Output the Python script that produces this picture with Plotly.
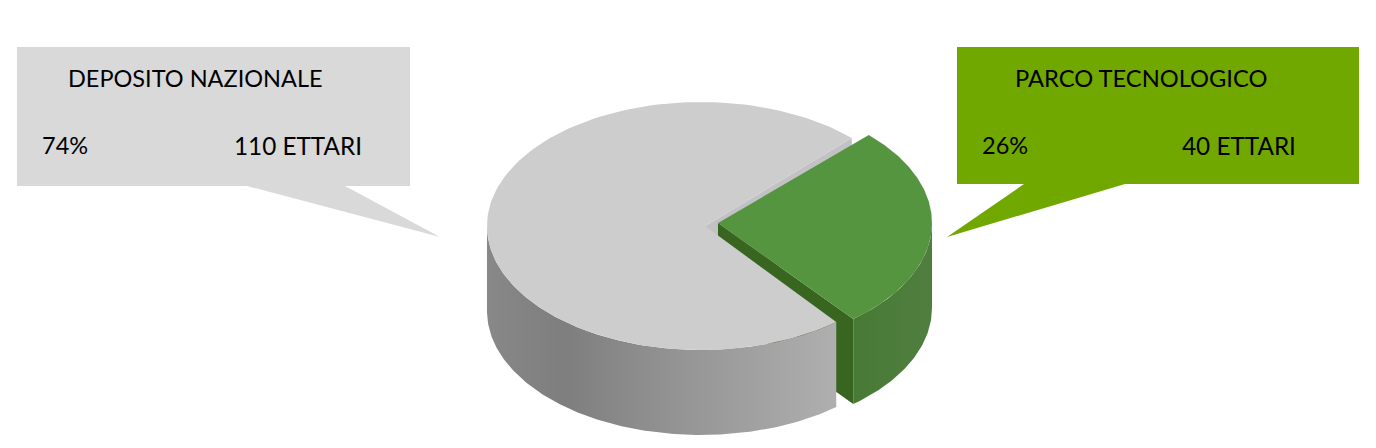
# 3D-looking pie: Plotly's pie trace is flat and round, so the faces are
# worked out from the hectares and drawn as filled scatter traces.
import numpy as np
import plotly.graph_objects as go

categories = ['DEPOSITO NAZIONALE', 'PARCO TECNOLOGICO']
percent_labels = ['74%', '26%']
hectares = [110, 40]

# Pie geometry, in axis units (same as picture pixels)
cx, cy = 701, 226
tip_x = 705
rx, ry = 214, 124
depth = 85
explode_x, explode_y = 17, -3
start_angle = 45.2

green_sweep = 360 * hectares[1] / sum(hectares)
a_up = start_angle
a_low = start_angle - green_sweep


def rim(angle_from, angle_to, x0, y0, n=160):
    t = np.radians(np.linspace(angle_from, angle_to, n))
    return x0 + rx * np.cos(t), y0 - ry * np.sin(t)


def face(fig, xs, ys, color=None, gradient=None):
    fig.add_trace(go.Scatter(
        x=np.append(xs, xs[0]), y=np.append(ys, ys[0]),
        mode='lines', line=dict(width=0), fill='toself',
        fillcolor=color, fillgradient=gradient,
        hoverinfo='skip', showlegend=False))


fig = go.Figure()

# Grey cut wall, only a thin strip stays visible next to the green slice
ux, uy = rim(a_up, a_up, cx, cy, 1)
face(fig, np.array([tip_x, ux[0], ux[0], tip_x]),
     np.array([cy, uy[0], uy[0] + depth, cy + depth]), color='#c2c1c6')

# Green cut wall
gx, gy = cx + explode_x, cy + explode_y
lx, ly = rim(a_low, a_low, gx, gy, 1)
face(fig, np.array([gx, lx[0], lx[0], gx]),
     np.array([gy, ly[0], ly[0] + depth, gy + depth]), color='#38651f')

# Grey outer side
sx, sy = rim(180, 360 + a_low, cx, cy)
grey_side = dict(type='horizontal', colorscale=[
    [0, '#888888'], [0.22, '#7e7e7e'], [0.55, '#949494'], [1, '#afafaf']])
face(fig, np.concatenate([sx, sx[::-1]]), np.concatenate([sy, sy[::-1] + depth]),
     gradient=grey_side)

# Grey top
tx, ty = rim(a_up, a_up + 360 - green_sweep, cx, cy)
face(fig, np.append(tx, tip_x), np.append(ty, cy), color='#cdcdcd')

# Green outer side
sx, sy = rim(a_low, 0, gx, gy, 60)
green_side = dict(type='horizontal', colorscale=[
    [0, '#477a35'], [1, '#517e40']])
face(fig, np.concatenate([sx, sx[::-1]]), np.concatenate([sy, sy[::-1] + depth]),
     gradient=green_side)

# Green top
tx, ty = rim(a_up, a_low, gx, gy)
face(fig, np.append(tx, gx), np.append(ty, gy), color='#56953f')

# Callouts
left_box = 'M17,47 L410,47 L410,186 L345,186 L440,237 L247,186 L17,186 Z'
right_box = 'M957,47 L1359,47 L1359,184 L1125,184 L947,237 L1024,184 L957,184 Z'
fig.add_shape(type='path', path=left_box, fillcolor='#d9d9d9', line_width=0, layer='below')
fig.add_shape(type='path', path=right_box, fillcolor='#70a800', line_width=0, layer='below')


def label(text, x, y, size=23.5):
    fig.add_annotation(x=x, y=y, text=text, showarrow=False, xanchor='left',
                       yanchor='middle', xref='x', yref='y',
                       font=dict(family='Lato', size=size, color='black'))


label(categories[0], 65.5, 78)
label(percent_labels[0], 39.5, 145)
label(f'{hectares[0]} ETTARI', 231.5, 145, size=24.3)
label(categories[1], 1013, 78, size=23.7)
label(percent_labels[1], 979.5, 145)
label(f'{hectares[1]} ETTARI', 1179.5, 145, size=24.3)

fig.update_xaxes(range=[0, 1376], visible=False)
fig.update_yaxes(range=[448, 0], visible=False)
fig.update_layout(width=1376, height=448, margin=dict(l=0, r=0, t=0, b=0),
                  plot_bgcolor='white', paper_bgcolor='white', showlegend=False)

fig.write_html('out.html', config=dict(displayModeBar=False),
               post_script="document.body.style.margin='0';")
